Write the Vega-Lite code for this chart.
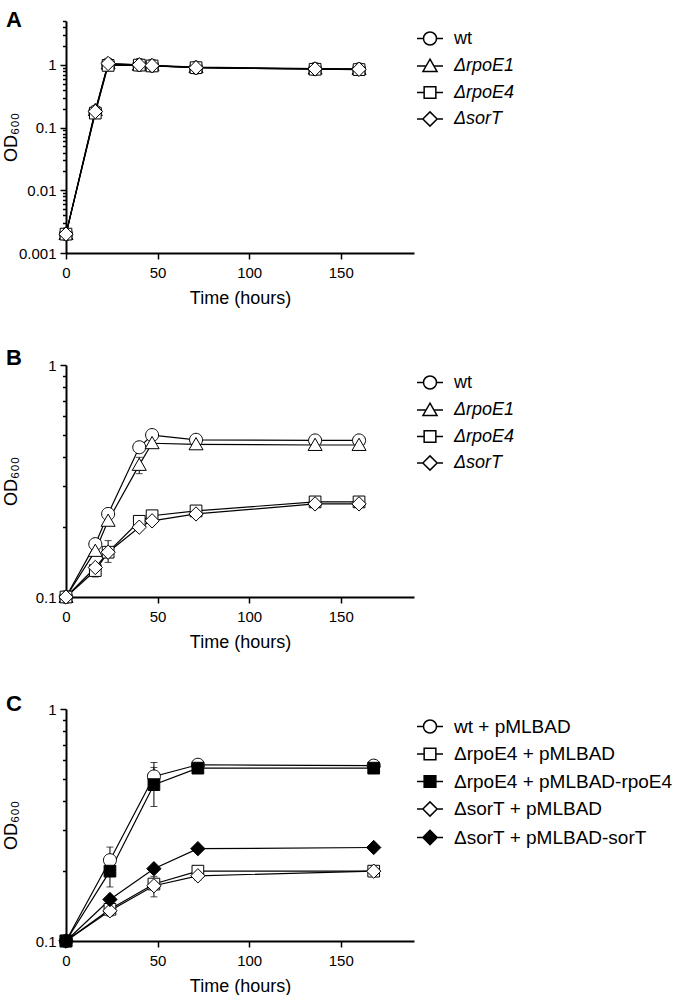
{
  "$schema": "https://vega.github.io/schema/vega-lite/v6.json",
  "padding": {"left": 2, "top": 8, "right": 2, "bottom": 0},
  "background": "white",
  "spacing": 112,
  "bounds": "flush",
  "config": {
    "view": {"stroke": null},
    "font": "Liberation Sans",
    "axis": {
      "domainColor": "black", "domainWidth": 2, "tickColor": "black", "tickWidth": 1.5,
      "labelColor": "black", "titleColor": "black", "labelFont": "Liberation Sans", "titleFont": "Liberation Sans",
      "labelFontSize": 15, "titleFontSize": 18, "titleFontWeight": "normal", "grid": false,
      "labelOverlap": false, "labelFlush": false, "labelBound": false
    },
    "legend": {
      "orient": "none", "legendX": 350, "legendY": 3.5, "padding": 0, "rowPadding": 3.5, "labelOffset": 10,
      "labelFont": "Liberation Sans", "labelFontSize": 18, "labelColor": "black", "labelLimit": 400,
      "symbolSize": 676
    },
    "title": {"font": "Liberation Sans", "fontSize": 22, "fontWeight": "bold", "color": "black", "anchor": "start", "frame": "group", "baseline": "alphabetic", "offset": 0, "dx": -60}
  },
  "datasets": {
    "A": [
      {"strain": "wt", "t": 0, "od": 0.002}, {"strain": "wt", "t": 16, "od": 0.18}, {"strain": "wt", "t": 23, "od": 1.02}, {"strain": "wt", "t": 40, "od": 1.0}, {"strain": "wt", "t": 47, "od": 0.97}, {"strain": "wt", "t": 71, "od": 0.9}, {"strain": "wt", "t": 136, "od": 0.86}, {"strain": "wt", "t": 160, "od": 0.85},
      {"strain": "ΔrpoE1", "t": 0, "od": 0.002}, {"strain": "ΔrpoE1", "t": 16, "od": 0.19}, {"strain": "ΔrpoE1", "t": 23, "od": 1.05}, {"strain": "ΔrpoE1", "t": 40, "od": 1.0}, {"strain": "ΔrpoE1", "t": 47, "od": 0.98}, {"strain": "ΔrpoE1", "t": 71, "od": 0.92}, {"strain": "ΔrpoE1", "t": 136, "od": 0.87}, {"strain": "ΔrpoE1", "t": 160, "od": 0.86},
      {"strain": "ΔrpoE4", "t": 0, "od": 0.002}, {"strain": "ΔrpoE4", "t": 16, "od": 0.17}, {"strain": "ΔrpoE4", "t": 23, "od": 0.98}, {"strain": "ΔrpoE4", "t": 40, "od": 0.99}, {"strain": "ΔrpoE4", "t": 47, "od": 0.96}, {"strain": "ΔrpoE4", "t": 71, "od": 0.9}, {"strain": "ΔrpoE4", "t": 136, "od": 0.85}, {"strain": "ΔrpoE4", "t": 160, "od": 0.84},
      {"strain": "ΔsorT", "t": 0, "od": 0.002}, {"strain": "ΔsorT", "t": 16, "od": 0.18}, {"strain": "ΔsorT", "t": 23, "od": 1.05}, {"strain": "ΔsorT", "t": 40, "od": 1.0}, {"strain": "ΔsorT", "t": 47, "od": 0.97}, {"strain": "ΔsorT", "t": 71, "od": 0.9}, {"strain": "ΔsorT", "t": 136, "od": 0.86}, {"strain": "ΔsorT", "t": 160, "od": 0.85}
    ],
    "B": [
      {"strain": "wt", "t": 0, "od": 0.1}, {"strain": "wt", "t": 16, "od": 0.169}, {"strain": "wt", "t": 23, "od": 0.228}, {"strain": "wt", "t": 40, "od": 0.442}, {"strain": "wt", "t": 47, "od": 0.499}, {"strain": "wt", "t": 71, "od": 0.476}, {"strain": "wt", "t": 136, "od": 0.473}, {"strain": "wt", "t": 160, "od": 0.473},
      {"strain": "ΔrpoE1", "t": 0, "od": 0.1}, {"strain": "ΔrpoE1", "t": 16, "od": 0.158}, {"strain": "ΔrpoE1", "t": 23, "od": 0.213}, {"strain": "ΔrpoE1", "t": 40, "od": 0.371, "lo": 0.34, "hi": 0.4}, {"strain": "ΔrpoE1", "t": 47, "od": 0.46, "lo": 0.44, "hi": 0.48}, {"strain": "ΔrpoE1", "t": 71, "od": 0.455}, {"strain": "ΔrpoE1", "t": 136, "od": 0.452}, {"strain": "ΔrpoE1", "t": 160, "od": 0.452},
      {"strain": "ΔrpoE4", "t": 0, "od": 0.1}, {"strain": "ΔrpoE4", "t": 16, "od": 0.13, "lo": 0.122, "hi": 0.138}, {"strain": "ΔrpoE4", "t": 23, "od": 0.156, "lo": 0.141, "hi": 0.175}, {"strain": "ΔrpoE4", "t": 40, "od": 0.212}, {"strain": "ΔrpoE4", "t": 47, "od": 0.224}, {"strain": "ΔrpoE4", "t": 71, "od": 0.235}, {"strain": "ΔrpoE4", "t": 136, "od": 0.257}, {"strain": "ΔrpoE4", "t": 160, "od": 0.257},
      {"strain": "ΔsorT", "t": 0, "od": 0.1}, {"strain": "ΔsorT", "t": 16, "od": 0.134}, {"strain": "ΔsorT", "t": 23, "od": 0.156}, {"strain": "ΔsorT", "t": 40, "od": 0.2}, {"strain": "ΔsorT", "t": 47, "od": 0.213}, {"strain": "ΔsorT", "t": 71, "od": 0.228}, {"strain": "ΔsorT", "t": 136, "od": 0.252}, {"strain": "ΔsorT", "t": 160, "od": 0.252}
    ],
    "C": [
      {"strain": "wt + pMLBAD", "t": 0, "od": 0.1}, {"strain": "wt + pMLBAD", "t": 24, "od": 0.223, "lo": 0.2, "hi": 0.254}, {"strain": "wt + pMLBAD", "t": 48, "od": 0.512, "lo": 0.45, "hi": 0.588}, {"strain": "wt + pMLBAD", "t": 72, "od": 0.575}, {"strain": "wt + pMLBAD", "t": 168, "od": 0.57},
      {"strain": "ΔrpoE4 + pMLBAD", "t": 0, "od": 0.1}, {"strain": "ΔrpoE4 + pMLBAD", "t": 24, "od": 0.137}, {"strain": "ΔrpoE4 + pMLBAD", "t": 48, "od": 0.176}, {"strain": "ΔrpoE4 + pMLBAD", "t": 72, "od": 0.2, "lo": 0.19, "hi": 0.206}, {"strain": "ΔrpoE4 + pMLBAD", "t": 168, "od": 0.2},
      {"strain": "ΔrpoE4 + pMLBAD-rpoE4", "t": 0, "od": 0.1}, {"strain": "ΔrpoE4 + pMLBAD-rpoE4", "t": 24, "od": 0.2, "lo": 0.171, "hi": 0.23}, {"strain": "ΔrpoE4 + pMLBAD-rpoE4", "t": 48, "od": 0.472, "lo": 0.38, "hi": 0.56}, {"strain": "ΔrpoE4 + pMLBAD-rpoE4", "t": 72, "od": 0.556}, {"strain": "ΔrpoE4 + pMLBAD-rpoE4", "t": 168, "od": 0.556},
      {"strain": "ΔsorT + pMLBAD", "t": 0, "od": 0.1}, {"strain": "ΔsorT + pMLBAD", "t": 24, "od": 0.135, "lo": 0.128, "hi": 0.14}, {"strain": "ΔsorT + pMLBAD", "t": 48, "od": 0.173, "lo": 0.155, "hi": 0.19}, {"strain": "ΔsorT + pMLBAD", "t": 72, "od": 0.191, "lo": 0.183, "hi": 0.2}, {"strain": "ΔsorT + pMLBAD", "t": 168, "od": 0.2},
      {"strain": "ΔsorT + pMLBAD-sorT", "t": 0, "od": 0.1}, {"strain": "ΔsorT + pMLBAD-sorT", "t": 24, "od": 0.151}, {"strain": "ΔsorT + pMLBAD-sorT", "t": 48, "od": 0.205}, {"strain": "ΔsorT + pMLBAD-sorT", "t": 72, "od": 0.25}, {"strain": "ΔsorT + pMLBAD-sorT", "t": 168, "od": 0.253}
    ]
  },
  "resolve": {"scale": {"shape": "independent", "fill": "independent"}, "legend": {"shape": "independent", "fill": "independent"}},
  "vconcat": [
    {
      "width": 348, "height": 232,
      "title": {"text": "A", "dy": 21.5},
      "data": {"name": "A"},
      "resolve": {"scale": {"shape": "independent"}},
      "encoding": {
        "x": {"field": "t", "type": "quantitative", "scale": {"domain": [0, 190], "nice": false, "zero": false},
          "axis": {"title": "Time (hours)", "values": [0, 50, 100, 150], "tickSize": 6, "labelPadding": 6, "titleY": 50, "titleBaseline": "alphabetic"}},
        "y": {"field": "od", "type": "quantitative", "scale": {"type": "log", "domain": [0.001, 5], "nice": false},
          "axis": {"title": "OD₆₀₀", "titleX": -50, "titleY": 116, "titleAngle": 270, "titleBaseline": "alphabetic", "titleAlign": "center", "labelPadding": 4, "format": "~g",
            "values": [0.001, 0.002, 0.003, 0.004, 0.005, 0.006, 0.007, 0.008, 0.009, 0.01, 0.02, 0.03, 0.04, 0.05, 0.06, 0.07, 0.08, 0.09, 0.1, 0.2, 0.3, 0.4, 0.5, 0.6, 0.7, 0.8, 0.9, 1, 2, 3, 4, 5],
            "labelExpr": "indexof(['0.001','0.01','0.1','1'], datum.label) >= 0 ? datum.label : ''",
            "tickSize": {"condition": {"test": "indexof([0.001, 0.01, 0.1, 1], datum.value) >= 0", "value": 6}, "value": 3.5}}}
      },
      "layer": [
        {"mark": {"type": "line", "color": "black", "strokeWidth": 1.2},
         "encoding": {"detail": {"field": "strain"}}},
        {"mark": {"type": "point", "filled": true, "size": 676, "stroke": "black", "strokeWidth": 1, "opacity": 1},
         "encoding": {
           "shape": {"field": "strain", "type": "nominal",
             "scale": {"domain": ["wt", "ΔrpoE1", "ΔrpoE4", "ΔsorT"],
               "range": ["M-0.5,0A0.5,0.5,0,1,1,0.5,0A0.5,0.5,0,1,1,-0.5,0Z", "M0,-0.52L0.54,0.42L-0.54,0.42Z", "M-0.45,-0.45L0.45,-0.45L0.45,0.45L-0.45,0.45Z", "M-0.55,0L0,-0.55L0.55,0L0,0.55Z"]},
             "legend": null},
           "fill": {"value": "white"}}},
        {"transform": [{"filter": "false"}],
         "mark": {"type": "point", "filled": true, "size": 676, "stroke": "black", "strokeWidth": 1, "opacity": 1},
         "encoding": {
           "shape": {"field": "strain", "type": "nominal",
             "scale": {"domain": ["wt", "ΔrpoE1", "ΔrpoE4", "ΔsorT"],
               "range": ["M-1,0L-0.5,0M0.5,0L1,0M-0.5,0A0.5,0.5,0,1,1,0.5,0A0.5,0.5,0,1,1,-0.5,0Z", "M-1,0L-0.29,0M0.29,0L1,0M0,-0.52L0.54,0.42L-0.54,0.42Z", "M-1,0L-0.45,0M0.45,0L1,0M-0.45,-0.45L0.45,-0.45L0.45,0.45L-0.45,0.45Z", "M-1,0L-0.55,0M0.55,0L1,0M-0.55,0L0,-0.55L0.55,0L0,0.55Z"]},
             "legend": {"title": null, "symbolOpacity": 1, "labelFontStyle": {"expr": "datum.value === 'wt' ? 'normal' : 'italic'"}}},
           "fill": {"value": "white"}}}
      ]
    },
    {
      "width": 348, "height": 232,
      "title": {"text": "B", "dy": 15.5},
      "data": {"name": "B"},
      "resolve": {"scale": {"shape": "independent"}},
      "encoding": {
        "x": {"field": "t", "type": "quantitative", "scale": {"domain": [0, 190], "nice": false, "zero": false},
          "axis": {"title": "Time (hours)", "values": [0, 50, 100, 150], "tickSize": 6, "labelPadding": 6, "titleY": 50, "titleBaseline": "alphabetic"}},
        "y": {"field": "od", "type": "quantitative", "scale": {"type": "log", "domain": [0.1, 1], "nice": false},
          "axis": {"title": "OD₆₀₀", "titleX": -50, "titleY": 116, "titleAngle": 270, "titleBaseline": "alphabetic", "titleAlign": "center", "labelPadding": 4, "format": "~g",
            "values": [0.1, 0.2, 0.3, 0.4, 0.5, 0.6, 0.7, 0.8, 0.9, 1],
            "labelExpr": "indexof(['0.1','1'], datum.label) >= 0 ? datum.label : ''",
            "tickSize": {"condition": {"test": "indexof([0.1, 1], datum.value) >= 0", "value": 6}, "value": 3.5}}}
      },
      "layer": [
        {"transform": [{"filter": "isValid(datum.lo)"}],
         "mark": {"type": "errorbar", "ticks": {"size": 7, "color": "black"}, "color": "black", "thickness": 1},
         "encoding": {
           "y": {"field": "lo", "type": "quantitative", "scale": {"type": "log", "domain": [0.1, 1], "nice": false},
             "axis": {"title": "OD₆₀₀", "titleX": -50, "titleY": 116, "titleAngle": 270, "titleBaseline": "alphabetic", "titleAlign": "center", "labelPadding": 4, "format": "~g",
               "values": [0.1, 0.2, 0.3, 0.4, 0.5, 0.6, 0.7, 0.8, 0.9, 1],
               "labelExpr": "indexof(['0.1','1'], datum.label) >= 0 ? datum.label : ''",
               "tickSize": {"condition": {"test": "indexof([0.1, 1], datum.value) >= 0", "value": 6}, "value": 3.5}}},
           "y2": {"field": "hi"}}},
        {"mark": {"type": "line", "color": "black", "strokeWidth": 1.2},
         "encoding": {"detail": {"field": "strain"}}},
        {"mark": {"type": "point", "filled": true, "size": 676, "stroke": "black", "strokeWidth": 1, "opacity": 1},
         "encoding": {
           "shape": {"field": "strain", "type": "nominal",
             "scale": {"domain": ["wt", "ΔrpoE1", "ΔrpoE4", "ΔsorT"],
               "range": ["M-0.5,0A0.5,0.5,0,1,1,0.5,0A0.5,0.5,0,1,1,-0.5,0Z", "M0,-0.52L0.54,0.42L-0.54,0.42Z", "M-0.45,-0.45L0.45,-0.45L0.45,0.45L-0.45,0.45Z", "M-0.55,0L0,-0.55L0.55,0L0,0.55Z"]},
             "legend": null},
           "fill": {"value": "white"}}},
        {"transform": [{"filter": "false"}],
         "mark": {"type": "point", "filled": true, "size": 676, "stroke": "black", "strokeWidth": 1, "opacity": 1},
         "encoding": {
           "shape": {"field": "strain", "type": "nominal",
             "scale": {"domain": ["wt", "ΔrpoE1", "ΔrpoE4", "ΔsorT"],
               "range": ["M-1,0L-0.5,0M0.5,0L1,0M-0.5,0A0.5,0.5,0,1,1,0.5,0A0.5,0.5,0,1,1,-0.5,0Z", "M-1,0L-0.29,0M0.29,0L1,0M0,-0.52L0.54,0.42L-0.54,0.42Z", "M-1,0L-0.45,0M0.45,0L1,0M-0.45,-0.45L0.45,-0.45L0.45,0.45L-0.45,0.45Z", "M-1,0L-0.55,0M0.55,0L1,0M-0.55,0L0,-0.55L0.55,0L0,0.55Z"]},
             "legend": {"title": null, "symbolOpacity": 1, "labelFontStyle": {"expr": "datum.value === 'wt' ? 'normal' : 'italic'"}}},
           "fill": {"value": "white"}}}
      ]
    },
    {
      "width": 348, "height": 232,
      "title": {"text": "C", "dy": 17.5},
      "data": {"name": "C"},
      "resolve": {"scale": {"shape": "independent", "fill": "independent"}},
      "encoding": {
        "x": {"field": "t", "type": "quantitative", "scale": {"domain": [0, 190], "nice": false, "zero": false},
          "axis": {"title": "Time (hours)", "values": [0, 50, 100, 150], "tickSize": 6, "labelPadding": 6, "titleY": 50, "titleBaseline": "alphabetic"}},
        "y": {"field": "od", "type": "quantitative", "scale": {"type": "log", "domain": [0.1, 1], "nice": false},
          "axis": {"title": "OD₆₀₀", "titleX": -50, "titleY": 116, "titleAngle": 270, "titleBaseline": "alphabetic", "titleAlign": "center", "labelPadding": 4, "format": "~g",
            "values": [0.1, 0.2, 0.3, 0.4, 0.5, 0.6, 0.7, 0.8, 0.9, 1],
            "labelExpr": "indexof(['0.1','1'], datum.label) >= 0 ? datum.label : ''",
            "tickSize": {"condition": {"test": "indexof([0.1, 1], datum.value) >= 0", "value": 6}, "value": 3.5}}}
      },
      "layer": [
        {"transform": [{"filter": "isValid(datum.lo)"}],
         "mark": {"type": "errorbar", "ticks": {"size": 7, "color": "black"}, "color": "black", "thickness": 1},
         "encoding": {
           "y": {"field": "lo", "type": "quantitative", "scale": {"type": "log", "domain": [0.1, 1], "nice": false},
             "axis": {"title": "OD₆₀₀", "titleX": -50, "titleY": 116, "titleAngle": 270, "titleBaseline": "alphabetic", "titleAlign": "center", "labelPadding": 4, "format": "~g",
               "values": [0.1, 0.2, 0.3, 0.4, 0.5, 0.6, 0.7, 0.8, 0.9, 1],
               "labelExpr": "indexof(['0.1','1'], datum.label) >= 0 ? datum.label : ''",
               "tickSize": {"condition": {"test": "indexof([0.1, 1], datum.value) >= 0", "value": 6}, "value": 3.5}}},
           "y2": {"field": "hi"}}},
        {"mark": {"type": "line", "color": "black", "strokeWidth": 1.2},
         "encoding": {"detail": {"field": "strain"}}},
        {"mark": {"type": "point", "filled": true, "size": 676, "stroke": "black", "strokeWidth": 1, "opacity": 1},
         "encoding": {
           "shape": {"field": "strain", "type": "nominal",
             "scale": {"domain": ["wt + pMLBAD", "ΔrpoE4 + pMLBAD", "ΔrpoE4 + pMLBAD-rpoE4", "ΔsorT + pMLBAD", "ΔsorT + pMLBAD-sorT"],
               "range": ["M-0.5,0A0.5,0.5,0,1,1,0.5,0A0.5,0.5,0,1,1,-0.5,0Z", "M-0.45,-0.45L0.45,-0.45L0.45,0.45L-0.45,0.45Z", "M-0.45,-0.45L0.45,-0.45L0.45,0.45L-0.45,0.45Z", "M-0.55,0L0,-0.55L0.55,0L0,0.55Z", "M-0.55,0L0,-0.55L0.55,0L0,0.55Z"]},
             "legend": null},
           "fill": {"field": "strain", "type": "nominal",
             "scale": {"domain": ["wt + pMLBAD", "ΔrpoE4 + pMLBAD", "ΔrpoE4 + pMLBAD-rpoE4", "ΔsorT + pMLBAD", "ΔsorT + pMLBAD-sorT"],
               "range": ["white", "white", "black", "white", "black"]},
             "legend": null}}},
        {"transform": [{"filter": "false"}],
         "mark": {"type": "point", "filled": true, "size": 676, "stroke": "black", "strokeWidth": 1, "opacity": 1},
         "encoding": {
           "shape": {"field": "strain", "type": "nominal",
             "scale": {"domain": ["wt + pMLBAD", "ΔrpoE4 + pMLBAD", "ΔrpoE4 + pMLBAD-rpoE4", "ΔsorT + pMLBAD", "ΔsorT + pMLBAD-sorT"],
               "range": ["M-1,0L-0.5,0M0.5,0L1,0M-0.5,0A0.5,0.5,0,1,1,0.5,0A0.5,0.5,0,1,1,-0.5,0Z", "M-1,0L-0.45,0M0.45,0L1,0M-0.45,-0.45L0.45,-0.45L0.45,0.45L-0.45,0.45Z", "M-1,0L-0.45,0M0.45,0L1,0M-0.45,-0.45L0.45,-0.45L0.45,0.45L-0.45,0.45Z", "M-1,0L-0.55,0M0.55,0L1,0M-0.55,0L0,-0.55L0.55,0L0,0.55Z", "M-1,0L-0.55,0M0.55,0L1,0M-0.55,0L0,-0.55L0.55,0L0,0.55Z"]},
             "legend": {"title": null, "symbolOpacity": 1, "labelFontSize": 19}},
           "fill": {"field": "strain", "type": "nominal",
             "scale": {"domain": ["wt + pMLBAD", "ΔrpoE4 + pMLBAD", "ΔrpoE4 + pMLBAD-rpoE4", "ΔsorT + pMLBAD", "ΔsorT + pMLBAD-sorT"],
               "range": ["white", "white", "black", "white", "black"]},
             "legend": {"title": null, "symbolOpacity": 1, "labelFontSize": 19}}}}
      ]
    }
  ]
}
